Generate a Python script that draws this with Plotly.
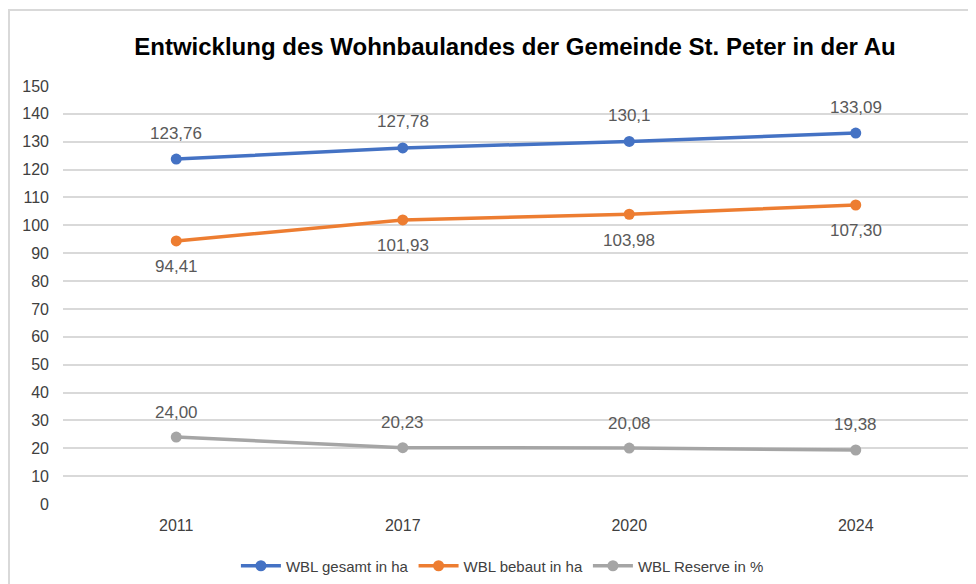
import plotly.graph_objects as go

years = ["2011", "2017", "2020", "2024"]
gesamt = [123.76, 127.78, 130.1, 133.09]
bebaut = [94.41, 101.93, 103.98, 107.30]
reserve = [24.00, 20.23, 20.08, 19.38]
gesamt_labels = ["123,76", "127,78", "130,1", "133,09"]
bebaut_labels = ["94,41", "101,93", "103,98", "107,30"]
reserve_labels = ["24,00", "20,23", "20,08", "19,38"]
y_ticks = list(range(0, 151, 10))

FONT = "Liberation Sans Narrow, Arial Narrow, Liberation Sans, Arial, sans-serif"
LABEL_COLOR = "#595959"

# page body has an 8px margin, so the figure is drawn at offset (8, 8)
W, H = 968, 576
L, R, T, B = 55, 7, 78, 80
PH = H - T - B

fig = go.Figure()

series = [
    ("WBL gesamt in ha", gesamt, gesamt_labels, "#4472C4", 26),
    ("WBL bebaut in ha", bebaut, bebaut_labels, "#ED7D31", -26),
    ("WBL Reserve in %", reserve, reserve_labels, "#A5A5A5", 25),
]
for name, vals, labels, color, shift in series:
    fig.add_trace(go.Scatter(
        x=years, y=vals, name=name, mode="lines+markers",
        line=dict(color=color, width=3.5),
        marker=dict(color=color, size=11),
        cliponaxis=False,
    ))
    for i, (yv, lab) in enumerate(zip(vals, labels)):
        fig.add_annotation(
            x=i, y=yv, xref="x", yref="y", text=lab, showarrow=False, yshift=shift,
            xanchor="center", yanchor="middle",
            font=dict(family=FONT, size=17, color=LABEL_COLOR),
        )

fig.update_layout(
    width=W, height=H,
    margin=dict(l=L, r=R, t=T, b=B, autoexpand=False),
    paper_bgcolor="white", plot_bgcolor="white",
    font=dict(family=FONT, color=LABEL_COLOR),
    title=dict(
        text="<b>Entwicklung des Wohnbaulandes der Gemeinde St. Peter in der Au</b>",
        font=dict(family=FONT, size=24, color="#000000"),
        x=(515 - 8) / W, xref="container", xanchor="center",
        y=1 - (47 - 8) / H, yref="container", yanchor="middle",
        automargin=False,
    ),
    xaxis=dict(
        type="category", range=[-0.5, 3.5], automargin=False,
        showgrid=False, showline=False, zeroline=False, ticks="",
        tickfont=dict(family=FONT, size=16, color="#404040"),
        ticklabelstandoff=10,
    ),
    yaxis=dict(
        range=[0, 150], tickvals=y_ticks, automargin=False,
        showgrid=True, gridcolor="#D9D9D9", gridwidth=1.5,
        zeroline=False, showline=False, ticks="",
        tickfont=dict(family=FONT, size=16, color="#404040"),
        ticklabelstandoff=13,
    ),
    legend=dict(
        orientation="h", x=0.485, xanchor="center",
        y=(504 - 566) / PH, yanchor="middle",
        font=dict(family=FONT, size=15, color="#404040"),
        itemwidth=40,
    ),
    showlegend=True,
)

fig.add_shape(
    type="rect", xref="paper", yref="paper",
    x0=(1 - L) / (W - L - R), x1=1.2, y0=-0.4, y1=(PH + T - 2) / PH,
    line=dict(color="#D9D9D9", width=2), fillcolor="rgba(0,0,0,0)",
    layer="below",
)

fig.write_html("out.html")
